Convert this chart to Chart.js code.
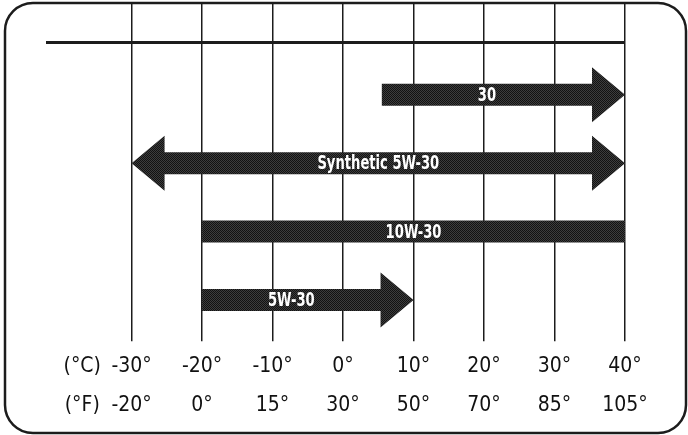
<!DOCTYPE html>
<html lang="en">
<head>
<meta charset="UTF-8">
<title>Oil viscosity by temperature</title>
<script src="https://cdn.jsdelivr.net/npm/chart.js"></script>
<style>
  html, body { margin: 0; padding: 0; background: #fff; }
  #wrap { width: 688px; height: 435px; }
</style>
</head>
<body>
<div id="wrap"><canvas id="oil-chart"></canvas></div>
<script>
// grades and the temperature range (°C) each one covers
const grades = ['30', 'Synthetic 5W-30', '10W-30', '5W-30'];
const fromC = [5.5, -30, -20, -20];
const toC = [40, 40, 40, 10];
const arrowLeft = [false, true, false, false];
const arrowRight = [true, true, false, true];

// axis labels
const celsiusTicks = [-30, -20, -10, 0, 10, 20, 30, 40];
const celsiusLabels = ['-30°', '-20°', '-10°', '0°', '10°', '20°', '30°', '40°'];
const fahrenheitLabels = ['-20°', '0°', '15°', '30°', '50°', '70°', '85°', '105°'];
const unitLabels = ['(°C)', '(°F)'];

const UNIT_AT = -37;
const FONT = '"Liberation Sans Narrow", "DejaVu Sans Condensed", "Roboto Condensed", sans-serif';
const INK = '#1c1c1c';

function dither(ctx) {
    const c = document.createElement('canvas');
    c.width = 2; c.height = 2;
    const g = c.getContext('2d');
    g.fillStyle = '#3d3d3d';
    g.fillRect(0, 0, 2, 2);
    g.fillStyle = '#121212';
    g.fillRect(0, 0, 1, 1);
    g.fillRect(1, 1, 1, 1);
    return ctx.createPattern(c, 'repeat');
}

// draws each bar as a shape with arrow heads, plus its label
const arrowPlugin = {
    id: 'arrows',
    afterDatasetsDraw(chart) {
        const ctx = chart.ctx;
        const meta = chart.getDatasetMeta(0);
        const fill = dither(ctx);
        meta.data.forEach((bar, i) => {
            const x0 = Math.min(bar.x, bar.base);
            const x1 = Math.max(bar.x, bar.base);
            const y = bar.y;
            const h = bar.height / 2;
            const H = 27.5, L = 33;
            ctx.save();
            ctx.beginPath();
            if (arrowLeft[i]) {
                ctx.moveTo(x0, y);
                ctx.lineTo(x0 + L, y - H);
                ctx.lineTo(x0 + L, y - h);
            } else {
                ctx.moveTo(x0, y - h);
            }
            if (arrowRight[i]) {
                ctx.lineTo(x1 - L, y - h);
                ctx.lineTo(x1 - L, y - H);
                ctx.lineTo(x1, y);
                ctx.lineTo(x1 - L, y + H);
                ctx.lineTo(x1 - L, y + h);
            } else {
                ctx.lineTo(x1, y - h);
                ctx.lineTo(x1, y + h);
            }
            if (arrowLeft[i]) {
                ctx.lineTo(x0 + L, y + h);
                ctx.lineTo(x0 + L, y + H);
            } else {
                ctx.lineTo(x0, y + h);
            }
            ctx.closePath();
            ctx.fillStyle = fill;
            ctx.fill();

            // label, squeezed a bit to look like a condensed face
            const b0 = arrowLeft[i] ? x0 + L : x0;
            const b1 = arrowRight[i] ? x1 - L : x1;
            ctx.translate((b0 + b1) / 2, y + 1);
            ctx.scale(0.73, 1);
            ctx.fillStyle = '#fff';
            ctx.font = 'bold 20px ' + FONT;
            ctx.textAlign = 'center';
            ctx.textBaseline = 'middle';
            ctx.fillText(grades[i], 0, 0);
            ctx.restore();
        });
    }
};

const framePlugin = {
    id: 'frame',
    afterDraw(chart) {
        const ctx = chart.ctx;
        ctx.save();
        ctx.strokeStyle = INK;
        ctx.lineWidth = 2.5;
        ctx.beginPath();
        ctx.roundRect(5, 3, 681, 430, 28);
        ctx.stroke();
        ctx.restore();
    }
};

new Chart(document.getElementById('oil-chart'), {
    type: 'bar',
    data: {
        labels: grades,
        datasets: [{
            label: 'Grade',
            data: grades.map((g, i) => ({ x: [fromC[i], toC[i]], y: i })),
            backgroundColor: 'rgba(0,0,0,0)',
            borderWidth: 0,
            barThickness: 22
        }]
    },
    options: {
        indexAxis: 'y',
        responsive: true,
        maintainAspectRatio: false,
        animation: false,
        layout: { padding: { left: 47, right: 63, top: 3, bottom: 4 } },
        plugins: {
            legend: { display: false },
            tooltip: { enabled: false }
        },
        scales: {
            x: {
                type: 'linear',
                position: 'bottom',
                min: -42,
                max: 40,
                afterBuildTicks: s => { s.ticks = [UNIT_AT, ...celsiusTicks].map(v => ({ value: v })); },
                ticks: {
                    autoSkip: false,
                    maxRotation: 0,
                    padding: 6,
                    color: '#111',
                    font: { family: FONT, size: 21, lineHeight: 1.85 },
                    callback: (v, i) => i === 0 ? unitLabels : [celsiusLabels[i - 1], fahrenheitLabels[i - 1]]
                },
                grid: { display: false, drawTicks: false },
                border: { display: false }
            },
            xTop: {
                type: 'linear',
                position: 'top',
                min: -42,
                max: 40,
                afterBuildTicks: s => { s.ticks = celsiusTicks.map(v => ({ value: v })); },
                ticks: { display: false },
                grid: { color: INK, lineWidth: 1.5, tickLength: 39 },
                border: { display: true, color: INK, width: 3 }
            },
            y: {
                type: 'linear',
                reverse: true,
                offset: false,
                min: -0.772,
                max: 3.604,
                display: false
            }
        }
    },
    plugins: [arrowPlugin, framePlugin]
});
</script>
</body>
</html>
